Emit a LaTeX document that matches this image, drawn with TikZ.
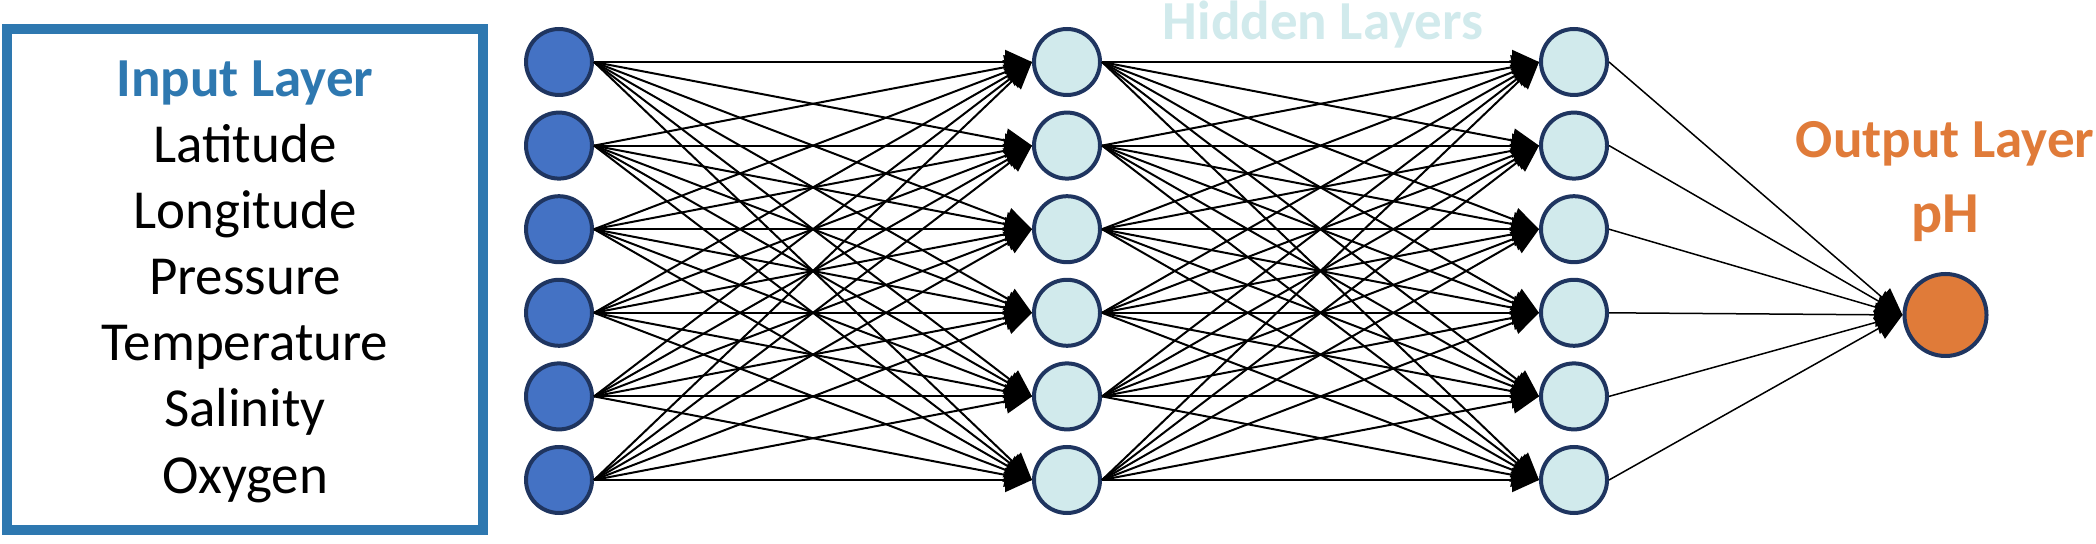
\documentclass[tikz,border=0pt]{standalone}
\usepackage{fontspec}
\setmainfont{Carlito}
\usetikzlibrary{arrows.meta}
\definecolor{boxblue}{HTML}{2E78B0}
\definecolor{inblue}{HTML}{4472C4}
\definecolor{navy}{HTML}{1F3560}
\definecolor{hidcyan}{HTML}{D1EAEC}
\definecolor{outorange}{HTML}{E07B39}
\begin{document}
\begin{tikzpicture}[x=0.5pt,y=-0.5pt,
  neuron/.style={circle, draw=navy, line width=2pt, minimum size=33pt, inner sep=0pt},
  innode/.style={neuron, fill=inblue},
  hidnode/.style={neuron, fill=hidcyan},
  outnode/.style={circle, draw=navy, line width=2pt, minimum size=41pt, inner sep=0pt, fill=outorange},
  conn/.style={line width=1pt, -{Triangle[length=13.5pt,width=12pt]}},
  outconn/.style={line width=0.75pt, -{Triangle[length=13.5pt,width=12pt]}},
  label/.style={anchor=base, font=\fontsize{27.5}{33}\selectfont, inner sep=0pt},
  heading/.style={anchor=base, font=\fontsize{27.5}{33}\selectfont\bfseries, inner sep=0pt},
  inputbox/.style={draw=boxblue, line width=5pt, inner sep=0pt, outer sep=0pt}
]
\useasboundingbox (0,0) rectangle (2096,544);

% input box
\node[inputbox, minimum width=238pt, minimum height=250.5pt] (inbox) at (245,279.5) {};
\node[heading, text=boxblue] (intitle) at (245,97) {Input Layer};
\node[label] (f1) at (245,163) {Latitude};
\node[label] (f2) at (245,229) {Longitude};
\node[label] (f3) at (245,295) {Pressure};
\node[label] (f4) at (245,361) {Temperature};
\node[label] (f5) at (245,427) {Salinity};
\node[label] (f6) at (245,493) {Oxygen};

% neurons
\foreach \k/\y in {1/62,2/145.6,3/229.2,4/312.8,5/396.4,6/480} {
  \node[innode] (i\k) at (559,\y) {};
  \node[hidnode] (a\k) at (1067,\y) {};
  \node[hidnode] (b\k) at (1574,\y) {};
}
\node[outnode] (o) at (1945.5,315) {};

% labels
\node[heading, text=hidcyan] (hidlabel) at (1323,40) {Hidden Layers};
\node[heading, text=outorange] (outlabel) at (1945,158) {Output Layer};
\node[heading, text=outorange, font=\fontsize{29}{33}\selectfont\bfseries] (phlabel) at (1945,233) {pH};

% connections
\foreach \s in {1,...,6} {
  \foreach \t in {1,...,6} {
    \draw[conn] (i\s.east) -- (a\t.west);
    \draw[conn] (a\s.east) -- (b\t.west);
  }
  \draw[outconn] (b\s.east) -- (o.west);
}
\end{tikzpicture}
\end{document}
